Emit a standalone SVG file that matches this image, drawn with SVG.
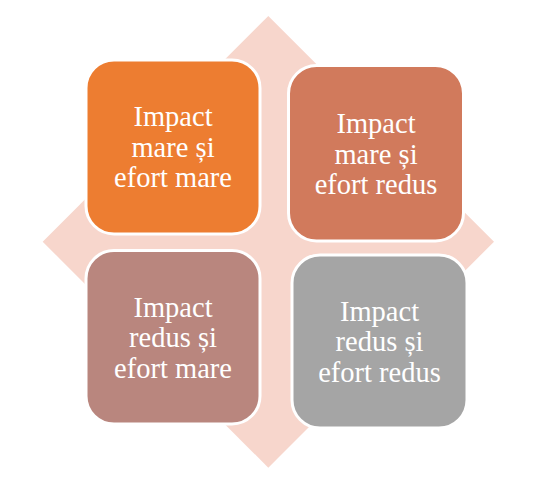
<svg xmlns="http://www.w3.org/2000/svg" width="543" height="480" viewBox="0 0 543 480">
<style>
.box{stroke:#FFFFFF;stroke-width:3}
.lbl{font-family:"Liberation Serif","Times New Roman",serif;font-size:28.5px;fill:#FFFFFF;text-anchor:middle}
</style>
<rect width="543" height="480" fill="#FFFFFF"/>
<g id="background">
<polygon points="268.3,16 494,241.7 268.3,467.7 42.7,241.7" fill="#F7D6CC"/>
</g>
<g id="connectors"></g>
<g id="node-impact-mare-efort-mare">
<rect class="box" x="86" y="60" width="174" height="174" rx="28" ry="28" fill="#ED7D31"/>
<text class="lbl" x="173" y="126">Impact</text>
<text class="lbl" x="173" y="156.5">mare și</text>
<text class="lbl" x="173" y="187">efort mare</text>
</g>
<g id="node-impact-mare-efort-redus">
<rect class="box" x="288.5" y="65.5" width="175" height="175.5" rx="28" ry="28" fill="#D17A5C"/>
<text class="lbl" x="376" y="133">Impact</text>
<text class="lbl" x="376" y="163.5">mare și</text>
<text class="lbl" x="376" y="194">efort redus</text>
</g>
<g id="node-impact-redus-efort-mare">
<rect class="box" x="86" y="250.5" width="174" height="173.5" rx="28" ry="28" fill="#B9867E"/>
<text class="lbl" x="173" y="316.5">Impact</text>
<text class="lbl" x="173" y="347">redus și</text>
<text class="lbl" x="173" y="377.5">efort mare</text>
</g>
<g id="node-impact-redus-efort-redus">
<rect class="box" x="292" y="255" width="175" height="173" rx="28" ry="28" fill="#A5A5A5"/>
<text class="lbl" x="379.5" y="320.5">Impact</text>
<text class="lbl" x="379.5" y="351">redus și</text>
<text class="lbl" x="379.5" y="381.5">efort redus</text>
</g>
</svg>
